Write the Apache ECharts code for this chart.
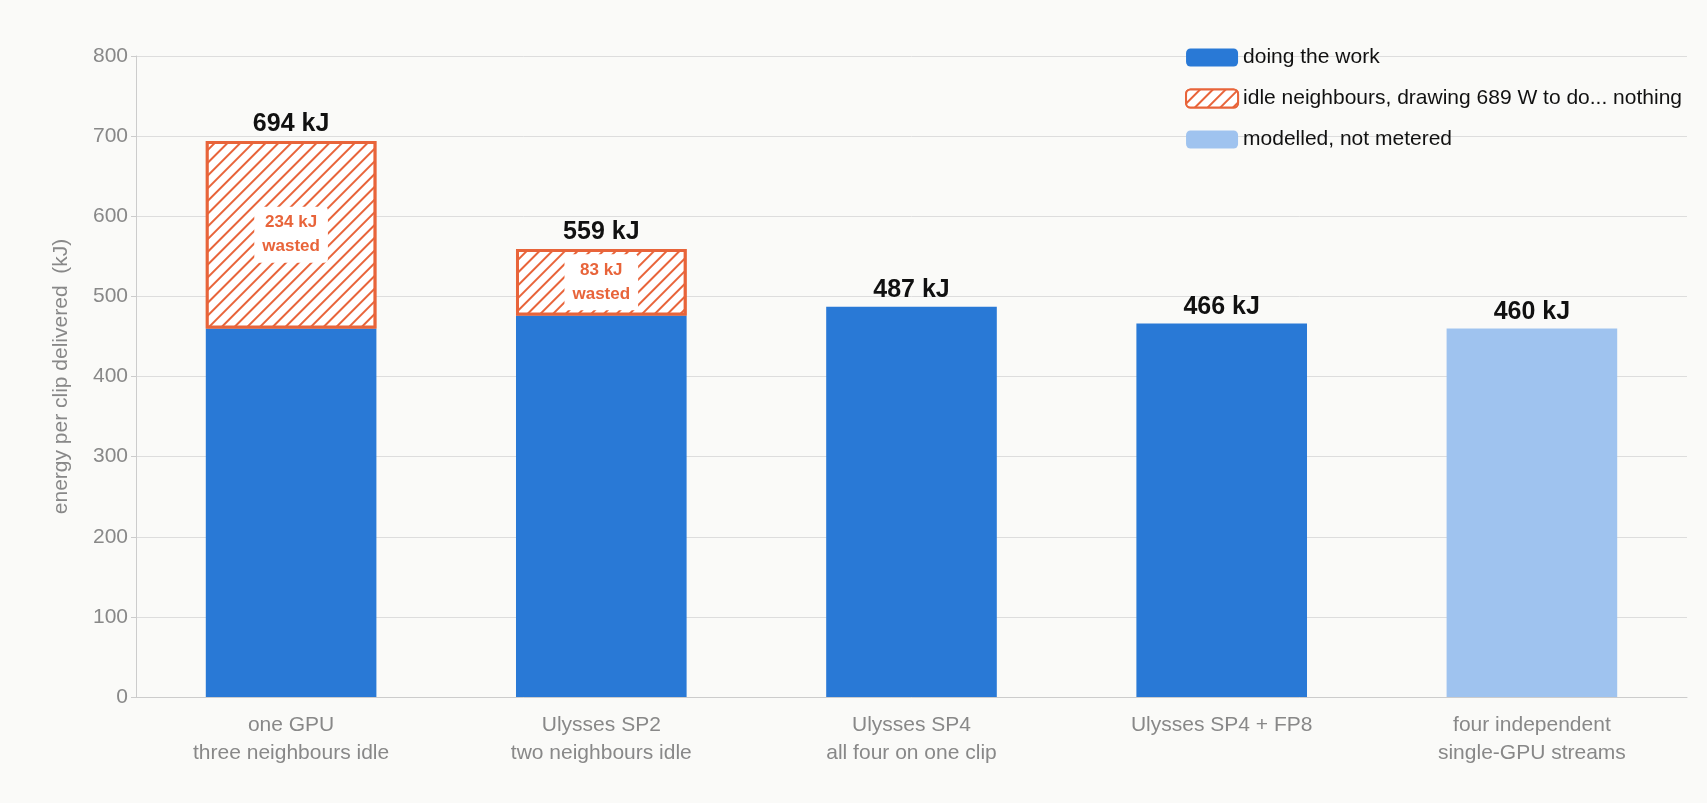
<!DOCTYPE html>
<html><head><meta charset="utf-8">
<script src="https://cdn.jsdelivr.net/npm/echarts@6/dist/echarts.min.js"></script>
<style>html,body{margin:0;background:#fafaf8}#c{width:1707px;height:803px}</style>
</head><body><div id="c"></div>
<script>
const categories=['one GPU\nthree neighbours idle','Ulysses SP2\ntwo neighbours idle','Ulysses SP4\nall four on one clip','Ulysses SP4 + FP8','four independent\nsingle-GPU streams'];
const workValues=[460,476,487,466,null];
const idleValues=[234,83,null,null,null];
const modelledValues=[null,null,null,null,460];
const totalValues=[694,559,487,466,460];
const yTicks={min:0,max:800,interval:100};
const F='"Liberation Sans", Arial, sans-serif';
const ORANGE='#e8643a';
const chart=echarts.init(document.getElementById('c'));
chart.setOption({
 backgroundColor:'#fafaf8',
 textStyle:{fontFamily:F},
 grid:{left:136,right:20,top:56,bottom:106},
 legend:{right:20,top:42,orient:'vertical',itemWidth:52,itemHeight:18,itemGap:20,
   textStyle:{fontSize:21,color:'#111',fontFamily:F},
   data:['doing the work','idle neighbours, drawing 689 W to do... nothing','modelled, not metered']},
 xAxis:{type:'category',data:categories,
   axisLine:{lineStyle:{color:'#ccc'}},axisTick:{alignWithLabel:true,lineStyle:{color:'#ccc'}},
   axisLabel:{fontSize:21,color:'#888',lineHeight:28,margin:14}},
 yAxis:{type:'value',min:yTicks.min,max:yTicks.max,interval:yTicks.interval,
   name:'energy per clip delivered  (kJ)',nameLocation:'middle',nameGap:64,
   nameTextStyle:{fontSize:21,color:'#888'},
   axisLine:{show:true,lineStyle:{color:'#ccc'}},axisTick:{show:true,lineStyle:{color:'#ccc'}},
   axisLabel:{fontSize:21,color:'#888'},splitLine:{lineStyle:{color:'#ddd'}}},
 series:[
  {name:'doing the work',type:'bar',stack:'a',barWidth:'55%',data:workValues,itemStyle:{color:'#2979d6'}},
  {name:'idle neighbours, drawing 689 W to do... nothing',type:'bar',stack:'a',data:idleValues,
   itemStyle:{color:'#ffffff',borderColor:ORANGE,borderWidth:3,
     decal:{symbol:'rect',color:ORANGE,dashArrayX:[1,0],dashArrayY:[2,7],rotation:-Math.PI/4,backgroundColor:'#fff'}},
   label:{show:true,position:'inside',formatter:p=>p.value+' kJ\nwasted',color:ORANGE,fontWeight:'bold',fontSize:17,lineHeight:24,
     backgroundColor:'#fff',padding:[4,8],borderRadius:4}},
  {name:'modelled, not metered',type:'bar',stack:'a',data:modelledValues,itemStyle:{color:'#9fc3ef'}},
  {name:'total',type:'bar',stack:'a',data:totalValues.map(()=>0),itemStyle:{color:'transparent'},
   label:{show:true,position:'top',distance:4,formatter:p=>totalValues[p.dataIndex]+' kJ',color:'#111',fontWeight:'bold',fontSize:25}}
 ]
});
</script></body></html>
